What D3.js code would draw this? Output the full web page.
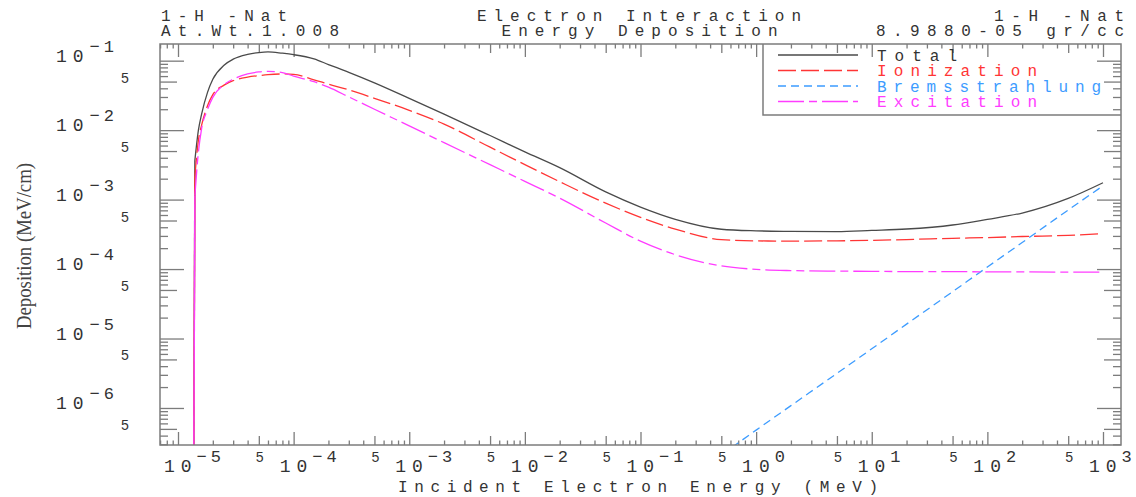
<!DOCTYPE html>
<html>
<head>
<meta charset="utf-8">
<script src="https://cdn.jsdelivr.net/npm/d3@7"></script>
<style>
  body { margin: 0; background: #fff; }
  text { font-family: "Liberation Mono", monospace; fill: #333; }
</style>
</head>
<body>
<svg id="chart" width="1136" height="497"></svg>
<script>
// energies (MeV) shared by total / ionization / excitation
var energy = [1.36e-5, 1.4e-5, 1.5e-5, 1.6e-5, 1.8e-5, 2e-5, 2.5e-5, 3e-5, 4e-5, 5e-5,
              6e-5, 8e-5, 1e-4, 1.5e-4, 2e-4, 3e-4, 5e-4, 1e-3, 2e-3, 5e-3,
              1e-2, 2e-2, 5e-2, 0.1, 0.2, 0.5, 1, 2, 5, 10,
              20, 50, 100, 200, 500, 1000];
var total = [1e-8, 3.7e-3, 9.9e-3, 1.7e-2, 3.5e-2, 5.4e-2, 8.6e-2, 0.105, 0.123, 0.131,
             0.134, 0.128, 0.122, 0.106, 8.8e-2, 6.8e-2, 4.8e-2, 2.87e-2, 1.7e-2, 8.36e-3,
             4.86e-3, 2.88e-3, 1.29e-3, 7.8e-4, 5.2e-4, 3.74e-4, 3.55e-4, 3.49e-4, 3.46e-4, 3.6e-4,
             3.77e-4, 4.31e-4, 5.2e-4, 6.41e-4, 1.04e-3, 1.75e-3];
var ionization = [1e-8, 2.2e-3, 7.1e-3, 1.18e-2, 2.25e-2, 3.24e-2, 4.45e-2, 5.16e-2, 5.8e-2, 6.09e-2,
                  6.29e-2, 6.44e-2, 6.34e-2, 5.3e-2, 4.6e-2, 3.8e-2, 2.87e-2, 1.93e-2, 1.22e-2, 5.68e-3,
                  3.19e-3, 1.81e-3, 8.87e-4, 5.55e-4, 3.76e-4, 2.65e-4, 2.54e-4, 2.53e-4, 2.55e-4, 2.59e-4,
                  2.66e-4, 2.77e-4, 2.84e-4, 2.94e-4, 3.06e-4, 3.24e-4];
var excitation = [1e-8, 1.15e-3, 4.77e-3, 1.05e-2, 1.98e-2, 2.96e-2, 4.52e-2, 5.42e-2, 6.44e-2, 6.88e-2,
                  7.02e-2, 6.73e-2, 5.98e-2, 4.99e-2, 4.15e-2, 3.01e-2, 2.0e-2, 1.15e-2, 6.6e-3, 3.18e-3,
                  1.83e-3, 1.05e-3, 4.6e-4, 2.52e-4, 1.61e-4, 1.11e-4, 9.9e-5, 9.5e-5, 9.33e-5, 9.27e-5,
                  9.2e-5, 9.19e-5, 9.12e-5, 9.1e-5, 9.04e-5, 9.0e-5];
var bremsEnergy = [0.5, 1, 2, 5, 10, 20, 50, 100, 200, 500, 1000];
var bremsstrahlung = [2.1e-7, 4.8e-7, 1.08e-6, 3.15e-6, 7.11e-6, 1.61e-5, 4.72e-5, 1.07e-4, 2.41e-4, 7.08e-4, 1.58e-3];

var seriesNames = ["Total", "Ionization", "Bremsstrahlung", "Excitation"];
var xExps = [-5, -4, -3, -2, -1, 0, 1, 2, 3];
var yExps = [-1, -2, -3, -4, -5, -6];

var colors = {Total: "#4a4a4a", Ionization: "#ff3535", Bremsstrahlung: "#3d9cff", Excitation: "#ff3cff"};
var dashes = {Total: null, Ionization: "18,5", Bremsstrahlung: "8,5", Excitation: "26,5,8,5"};
var frameColor = "#7c7c7c";

var svg = d3.select("#chart");
var pLeft = 160, pRight = 1121, pTop = 44, pBottom = 445;

var x = d3.scaleLog().domain([Math.pow(10, -5.1557), Math.pow(10, 3.1557)]).range([pLeft, pRight]);
var y = d3.scaleLog().domain([Math.pow(10, -6.533), Math.pow(10, -0.76)]).range([pBottom, pTop]);

svg.append("clipPath").attr("id", "plotclip")
  .append("rect").attr("x", pLeft).attr("y", pTop).attr("width", pRight - pLeft).attr("height", pBottom - pTop);

// legend box (top/right sides shared with the frame)
svg.append("path")
  .attr("d", "M763," + pTop + "V115H" + pRight)
  .attr("fill", "none").attr("stroke", frameColor).attr("stroke-width", 1.5);

// log ticks
function logTicks(dom) {
  var t = {major: [], five: [], minor: []};
  for (var e = -8; e <= 4; e++) {
    for (var m = 1; m <= 9; m++) {
      var v = m * Math.pow(10, e);
      if (v < dom[0] || v > dom[1]) continue;
      if (m === 1) t.major.push(v); else if (m === 5) t.five.push(v); else t.minor.push(v);
    }
  }
  return t;
}
var xt = logTicks(x.domain()), yt = logTicks(y.domain());

function drawTicks(makeAxis, scale, pos, ticks, lens) {
  [["minor", lens[2]], ["five", lens[1]], ["major", lens[0]]].forEach(function (k) {
    var g = svg.append("g").attr("transform", pos)
      .call(makeAxis(scale).tickValues(ticks[k[0]]).tickSize(-k[1]).tickFormat(""));
    g.select(".domain").remove();
    g.selectAll("text").remove();
    g.selectAll("line").attr("stroke", frameColor).attr("stroke-width", 1.3);
  });
}
drawTicks(d3.axisBottom, x, "translate(0," + pBottom + ")", xt, [13, 9, 4.5]);
drawTicks(d3.axisTop, x, "translate(0," + pTop + ")", xt, [13, 9, 4.5]);
drawTicks(d3.axisLeft, y, "translate(" + pLeft + ",0)", yt, [24, 17, 8]);
drawTicks(d3.axisRight, y, "translate(" + pRight + ",0)", yt, [24, 17, 8]);

// curves
var line = d3.line().x(function (d) { return x(d[0]); }).y(function (d) { return y(d[1]); })
  .curve(d3.curveMonotoneX);
var straight = d3.line().x(function (d) { return x(d[0]); }).y(function (d) { return y(d[1]); });
var seriesData = {
  Total: d3.zip(energy, total),
  Ionization: d3.zip(energy, ionization),
  Bremsstrahlung: d3.zip(bremsEnergy, bremsstrahlung),
  Excitation: d3.zip(energy, excitation)
};
var plot = svg.append("g").attr("clip-path", "url(#plotclip)");
seriesNames.forEach(function (name) {
  var pts = seriesData[name];
  if (name !== "Bremsstrahlung") {
    // steep rise right at the threshold energy
    plot.append("path").attr("d", straight(pts.slice(0, 2)))
      .attr("fill", "none").attr("stroke", colors[name]).attr("stroke-width", 1.4);
    pts = pts.slice(1);
  }
  plot.append("path").attr("d", line(pts))
    .attr("fill", "none").attr("stroke", colors[name]).attr("stroke-width", 1.3)
    .attr("stroke-dasharray", dashes[name]);
});

// frame
svg.append("rect").attr("x", pLeft).attr("y", pTop).attr("width", pRight - pLeft).attr("height", pBottom - pTop)
  .attr("fill", "none").attr("stroke", frameColor).attr("stroke-width", 1.5);

// tick labels
function expText(e) { return e < 0 ? "\u2212" + (-e) : "" + e; }
xExps.forEach(function (e) {
  var t = svg.append("text").attr("x", x(Math.pow(10, e)) - 14).attr("y", 472);
  t.append("tspan").attr("font-size", 18).attr("letter-spacing", 6).text("10");
  t.append("tspan").attr("dx", -1).attr("dy", -10).attr("font-size", 17).attr("letter-spacing", 4).text(expText(e));
  if (e < 3) {
    svg.append("text").attr("x", x(5 * Math.pow(10, e)) + 1).attr("y", 462)
      .attr("text-anchor", "middle").attr("font-size", 14).text("5");
  }
});
yExps.forEach(function (e) {
  var yy = y(Math.pow(10, e)) + 1;
  var t = svg.append("text").attr("x", 56).attr("y", yy);
  t.append("tspan").attr("font-size", 18).attr("letter-spacing", 6).text("10");
  t.append("tspan").attr("dy", -10).attr("font-size", 17).attr("letter-spacing", 4).text(expText(e));
  svg.append("text").attr("x", 125).attr("y", y(5 * Math.pow(10, e - 1)) + 1)
    .attr("text-anchor", "middle").attr("font-size", 14).text("5");
});

// titles
function label(str, xx, yy, len, opts) {
  opts = opts || {};
  return svg.append("text").attr("x", xx).attr("y", yy)
    .attr("font-size", opts.size || 16)
    .attr("text-anchor", opts.anchor || "start")
    .attr("textLength", len)
    .style("fill", opts.fill || "#333")
    .text(str);
}
label("1-H -Nat", 161, 21, 126);
label("At.Wt.1.008", 161, 35.5, 178);
label("Electron Interaction", 639, 21, 324, {anchor: "middle"});
label("Energy Deposition", 639.5, 35.5, 276, {anchor: "middle"});
label("1-H -Nat", 994, 21, 130);
label("8.9880-05 gr/cc", 876, 35.5, 248);
label("Incident Electron Energy (MeV)", 638, 492, 480, {anchor: "middle"});

svg.append("text").attr("transform", "translate(31,246) rotate(-90)")
  .attr("text-anchor", "middle").attr("font-size", 20)
  .attr("textLength", 166).attr("lengthAdjust", "spacingAndGlyphs")
  .style("font-family", "'Liberation Serif', serif").style("fill", "#444")
  .text("Deposition (MeV/cm)");

// legend
var legendY = [55, 70.5, 86, 101.5];
var legendLen = [80, 160, 224, 160];
seriesNames.forEach(function (name, i) {
  svg.append("line").attr("x1", 778).attr("x2", 858).attr("y1", legendY[i]).attr("y2", legendY[i])
    .attr("stroke", colors[name]).attr("stroke-width", 1.3).attr("stroke-dasharray", dashes[name]);
  label(name, 877, legendY[i] + 5.5, legendLen[i], {fill: name === "Total" ? "#333" : colors[name]});
});
</script>
</body>
</html>
